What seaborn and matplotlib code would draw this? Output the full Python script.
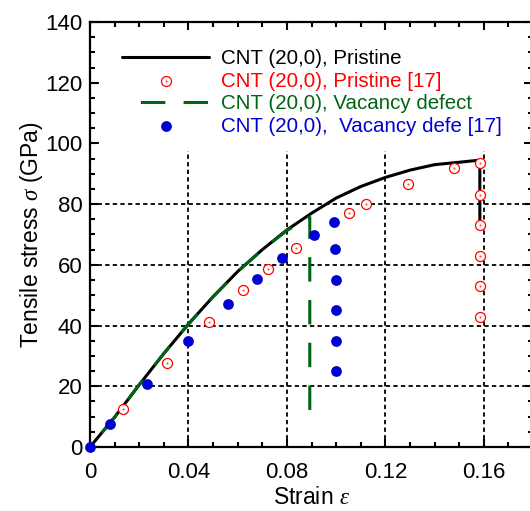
import numpy as np
import pandas as pd
import matplotlib
matplotlib.use("Agg")
import matplotlib.pyplot as plt
from matplotlib.path import Path
from matplotlib.patches import Rectangle
from matplotlib.ticker import FixedLocator, FixedFormatter, MultipleLocator
import seaborn as sns

# MD stress-strain curve, pristine (20,0) tube
pristine_strain = [0, 0.01, 0.02, 0.03, 0.04, 0.05, 0.06, 0.07, 0.08, 0.09,
                   0.10, 0.11, 0.12, 0.13, 0.14, 0.15, 0.1584, 0.1584]
pristine_stress = [0, 9.8, 20.5, 30.8, 40.5, 49.5, 57.8, 65.0, 71.5, 77.0,
                   82.0, 85.8, 88.8, 91.2, 93.0, 93.8, 94.5, 73.0]

# MD stress-strain curve, (20,0) tube with a vacancy defect
vacancy_strain = [0, 0.01, 0.02, 0.03, 0.04, 0.05, 0.06, 0.07, 0.08, 0.0893, 0.0893]
vacancy_stress = [0, 9.8, 20.5, 30.8, 40.5, 49.5, 57.8, 65.0, 71.3, 75.8, 6.5]

# Reference [17], pristine
ref_pristine_strain = [0.0135, 0.0311, 0.0483, 0.0623, 0.0724, 0.0837, 0.1053, 0.1121,
                       0.1293, 0.148, 0.1584, 0.1586, 0.1586, 0.1586, 0.1586, 0.1586]
ref_pristine_stress = [12.6, 27.6, 41.3, 51.7, 58.6, 65.4, 77.2, 80.2,
                       86.8, 91.8, 93.4, 83.0, 73.0, 62.9, 53.0, 42.9]

# Reference [17], vacancy defect
ref_vacancy_strain = [0, 0.0081, 0.023, 0.0399, 0.0559, 0.0677, 0.0782, 0.0911,
                      0.0992, 0.0995, 0.0998, 0.0998, 0.0998, 0.0998]
ref_vacancy_stress = [0, 7.6, 20.6, 34.9, 47.0, 55.3, 62.1, 69.7,
                      74.2, 65.1, 55.0, 45.0, 34.9, 24.9]

series_labels = ["CNT (20,0), Pristine",
                 "CNT (20,0), Pristine [17]",
                 "CNT (20,0), Vacancy defect",
                 "CNT (20,0),  Vacancy defe [17]"]
series_colors = ["black", "#ff0000", "#006414", "#0000d2"]

x_ticks = [0, 0.04, 0.08, 0.12, 0.16]
x_tick_labels = ["0", "0.04", "0.08", "0.12", "0.16"]
y_ticks = [0, 20, 40, 60, 80, 100, 120, 140]
y_tick_labels = ["0", "20", "40", "60", "80", "100", "120", "140"]

sns.set_theme(style="ticks")
plt.rcParams["font.family"] = ["Liberation Sans", "DejaVu Sans"]
plt.rcParams["mathtext.fontset"] = "custom"
plt.rcParams["mathtext.rm"] = "Liberation Sans"
plt.rcParams["mathtext.it"] = "Liberation Serif:italic"

fig = plt.figure(figsize=(5.3, 5.11), dpi=100)
ax = fig.add_axes([90 / 530, 64 / 511, 443 / 530, 425 / 511])

df_p = pd.DataFrame({"strain": pristine_strain, "stress": pristine_stress})
df_v = pd.DataFrame({"strain": vacancy_strain, "stress": vacancy_stress})
df_rp = pd.DataFrame({"strain": ref_pristine_strain, "stress": ref_pristine_stress})
df_rv = pd.DataFrame({"strain": ref_vacancy_strain, "stress": ref_vacancy_stress})

sns.lineplot(data=df_p, x="strain", y="stress", sort=False, estimator=None,
             color=series_colors[0], lw=2.2, label=series_labels[0], ax=ax, zorder=3)

# open circle with a centre dot
ring_dot = Path.make_compound_path(Path.unit_circle(), Path.circle((0, 0), 0.06))
sns.scatterplot(data=df_rp, x="strain", y="stress", marker=ring_dot, s=52,
                color="white", edgecolor=series_colors[1], linewidth=0.9,
                label=series_labels[1], ax=ax, zorder=5)

sns.lineplot(data=df_v, x="strain", y="stress", sort=False, estimator=None,
             color=series_colors[2], lw=2.2,
             label=series_labels[2], ax=ax, zorder=4)
ax.lines[-1].set_linestyle((8, (8, 6)))

sns.scatterplot(data=df_rv, x="strain", y="stress", marker="o", s=60,
                color=series_colors[3], linewidth=0, clip_on=False,
                label=series_labels[3], ax=ax, zorder=6)

ax.set_xlim(0, 0.18)
ax.set_ylim(0, 140)
ax.xaxis.set_major_locator(FixedLocator(x_ticks))
ax.xaxis.set_major_formatter(FixedFormatter(x_tick_labels))
ax.yaxis.set_major_locator(FixedLocator(y_ticks))
ax.yaxis.set_major_formatter(FixedFormatter(y_tick_labels))
ax.xaxis.set_minor_locator(MultipleLocator(0.01))
ax.yaxis.set_minor_locator(MultipleLocator(5))

ax.tick_params(which="both", direction="in", top=True, right=True,
               width=1.5, color="black", labelsize=16, labelcolor="black")
ax.tick_params(which="major", length=6)
ax.tick_params(which="minor", length=3.5)
ax.tick_params(axis="y", which="major", pad=5.5)
ax.tick_params(axis="x", which="major", pad=11)
for sp in ax.spines.values():
    sp.set_linewidth(1.6)
    sp.set_color("black")

ax.set_axisbelow(True)
ax.grid(True, which="major", color="black", lw=1.3, linestyle=(0, (2.4, 1.8)))
# keep the legend area free of grid lines
ax.add_patch(Rectangle((0.02, 0.697), 0.96, 0.283, transform=ax.transAxes,
                       facecolor="white", edgecolor="none", zorder=0.8))

ax.set_xlabel(r"Strain $\varepsilon$", fontsize=16.5, color="black", labelpad=2)
ax.set_ylabel(r"Tensile stress $\sigma$ (GPa)", fontsize=16.5, color="black", labelpad=0)

leg = ax.legend(loc="upper left", bbox_to_anchor=(32 / 443, 0.936), frameon=False,
                fontsize=14.8, handlelength=4.25, handletextpad=0.55,
                labelspacing=0.17, borderpad=0, borderaxespad=0)
for txt, col in zip(leg.get_texts(), series_colors):
    txt.set_color(col)

fig.savefig("out.png", dpi=100)
